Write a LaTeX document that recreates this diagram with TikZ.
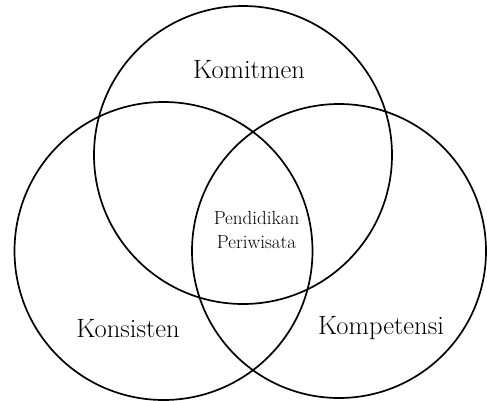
\documentclass[tikz,border=0pt]{standalone}
\begin{document}
\begin{tikzpicture}[x=1pt,y=-1pt,
  ring/.style={draw=black,line width=1.7pt},
  biglabel/.style={font=\fontsize{26.5}{30}\selectfont,inner sep=0pt},
  smalllabel/.style={font=\fontsize{19}{24}\selectfont,align=center,inner sep=0pt}]
\useasboundingbox (0,0) rectangle (487,400);
\draw[ring] (243,155) circle (149);
\draw[ring] (163.5,251) circle (149);
\draw[ring] (339,251) circle (147);
\node[biglabel] (komitmen) at (249,70) {Komitmen};
\node[biglabel] (konsisten) at (128,329) {Konsisten};
\node[biglabel] (kompetensi) at (381,328) {Kompetensi};
\node[smalllabel] (pendidikan) at (256.5,230) {Pendidikan\\Periwisata};
\end{tikzpicture}
\end{document}
